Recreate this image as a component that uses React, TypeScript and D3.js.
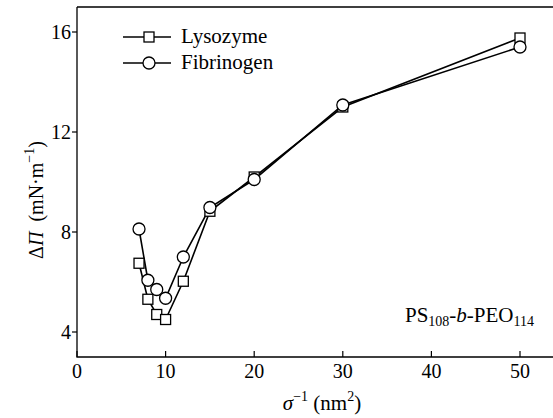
import React from 'react';
import * as d3 from 'd3';

const sigmaInv = [7, 8, 9, 10, 12, 15, 20, 30, 50];
const lysozyme = [6.75, 5.31, 4.7, 4.5, 6.03, 8.83, 10.2, 13.0, 15.76];
const fibrinogen = [8.12, 6.07, 5.7, 5.35, 7.0, 8.98, 10.1, 13.08, 15.4];
const xTicks = [0, 10, 20, 30, 40, 50];
const yTicks = [4, 8, 12, 16];

const W = 553, H = 418;
const m = { left: 77, top: 7, right: 0, bottom: 61 };
const font = "'Liberation Serif', 'Times New Roman', Times, serif";

export default function App() {
  const x = d3.scaleLinear().domain([0, 54]).range([m.left, m.left + 54 * 8.86]);
  const y = d3.scaleLinear().domain([3, 17]).range([H - m.bottom, m.top]);
  const lyso = sigmaInv.map((s, i) => [s, lysozyme[i]] as [number, number]);
  const fib = sigmaInv.map((s, i) => [s, fibrinogen[i]] as [number, number]);
  const line = d3.line<[number, number]>().x(d => x(d[0])).y(d => y(d[1]));
  const y0 = y(3), y1 = y(17);

  return (
    <svg width={W} height={H} style={{ position: 'absolute', left: 0, top: 0, fontFamily: font }}>
      <rect width={W} height={H} fill="#fff" />
      {/* frame */}
      <path d={`M${x(0)},${y1}H${W + 5}M${x(0)},${y1}V${y0}H${W + 5}`} fill="none" stroke="#000" strokeWidth={1.3} />
      {xTicks.map(t => (
        <g key={t}>
          <line x1={x(t)} x2={x(t)} y1={y0} y2={y0 - 6} stroke="#000" strokeWidth={1.2} />
          <text x={x(t)} y={y0 + 21} textAnchor="middle" fontSize={20}>{t}</text>
        </g>
      ))}
      {yTicks.map(t => (
        <g key={t}>
          <line x1={x(0)} x2={x(0) - 5} y1={y(t)} y2={y(t)} stroke="#000" strokeWidth={1.2} />
          <text x={x(0) - 6} y={y(t) + 7} textAnchor="end" fontSize={20}>{t}</text>
        </g>
      ))}
      {/* series */}
      <path d={line(fib) || ''} fill="none" stroke="#000" strokeWidth={1.6} />
      <path d={line(lyso) || ''} fill="none" stroke="#000" strokeWidth={1.6} />
      {lyso.map((d, i) => (
        <rect key={'l' + i} x={x(d[0]) - 5} y={y(d[1]) - 5} width={10} height={10} fill="#fff" stroke="#000" strokeWidth={1.3} />
      ))}
      {fib.map((d, i) => (
        <circle key={'f' + i} cx={x(d[0])} cy={y(d[1])} r={6} fill="#fff" stroke="#000" strokeWidth={1.3} />
      ))}
      {/* legend */}
      <line x1={123} x2={171} y1={37} y2={37} stroke="#000" strokeWidth={1.6} />
      <rect x={144} y={32} width={10} height={10} fill="#fff" stroke="#000" strokeWidth={1.3} />
      <text x={181} y={43} fontSize={21}>Lysozyme</text>
      <line x1={123} x2={171} y1={63} y2={63} stroke="#000" strokeWidth={1.6} />
      <circle cx={149} cy={63} r={6} fill="#fff" stroke="#000" strokeWidth={1.3} />
      <text x={181} y={69} fontSize={21}>Fibrinogen</text>
      {/* annotation */}
      <text x={405} y={322} fontSize={21}>
        PS<tspan fontSize={14} dy={4}>108</tspan><tspan dy={-4}>-</tspan><tspan fontStyle="italic">b</tspan>-PEO<tspan fontSize={14} dy={4}>114</tspan>
      </text>
      {/* axis titles */}
      <text x={322} y={410} textAnchor="middle" fontSize={21}>
        <tspan fontStyle="italic">σ</tspan><tspan fontSize={14} dy={-9}>−1</tspan><tspan dy={9}>{'\u00a0(nm'}</tspan><tspan fontSize={14} dy={-9}>2</tspan><tspan dy={9}>)</tspan>
      </text>
      <text transform={`translate(43,200) rotate(-90)`} textAnchor="middle" fontSize={20}>
        Δ<tspan fontStyle="italic">Π</tspan>{'\u00a0\u00a0(mN·m'}<tspan fontSize={14} dy={-9}>−1</tspan><tspan dy={9}>)</tspan>
      </text>
    </svg>
  );
}
